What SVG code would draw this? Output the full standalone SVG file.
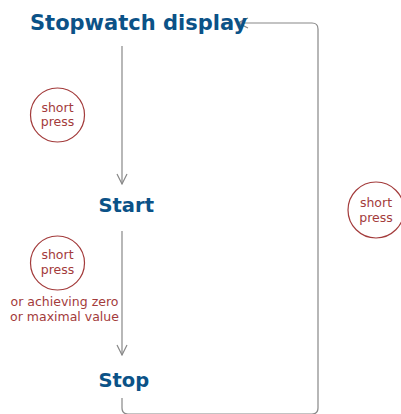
<svg xmlns="http://www.w3.org/2000/svg" width="401" height="414" viewBox="0 0 401 414">
<defs>
<style>
.title{font-family:"DejaVu Sans",sans-serif;font-weight:bold;fill:#0b5287;font-size:19.5px}
.big{font-size:21px}
.lbl{font-family:"DejaVu Sans",sans-serif;fill:#a33b3b;font-size:12.5px;text-anchor:middle}
.circ{fill:none;stroke:#a33b3b;stroke-width:1.2}
.edge{fill:none;stroke:#888;stroke-width:1.2}
</style>
<marker id="arr" viewBox="0 0 12 12" refX="11" refY="6" markerWidth="12" markerHeight="12" markerUnits="userSpaceOnUse" orient="auto">
<path d="M1,1 L11,6 L1,11" fill="none" stroke="#888" stroke-width="1.2"/>
</marker>
</defs>
<rect width="401" height="414" fill="#fff"/>
<g id="connectors">
<path class="edge" d="M122,46 V184" marker-end="url(#arr)"/>
<path class="edge" d="M122,231 V355" marker-end="url(#arr)"/>
<path class="edge" d="M122,398 V408 Q122,414 128,414 H312 Q318,414 318,408 V29 Q318,23 312,23 H238" marker-end="url(#arr)"/>
</g>
<g id="node-display"><text class="title big" x="30" y="30">Stopwatch display</text></g>
<g id="node-start"><text class="title" x="98.5" y="212">Start</text></g>
<g id="node-stop"><text class="title" x="98.5" y="387">Stop</text></g>
<g id="label-1">
<circle class="circ" cx="57.5" cy="115" r="27"/>
<text class="lbl" x="57.5" y="112">short</text>
<text class="lbl" x="57.5" y="126">press</text>
</g>
<g id="label-2">
<circle class="circ" cx="57.5" cy="263" r="27"/>
<text class="lbl" x="57.5" y="259">short</text>
<text class="lbl" x="57.5" y="274">press</text>
<text class="lbl" x="64.5" y="306">or achieving zero</text>
<text class="lbl" x="64.5" y="321">or maximal value</text>
</g>
<g id="label-3">
<circle class="circ" cx="376" cy="210" r="28"/>
<text class="lbl" x="376" y="207">short</text>
<text class="lbl" x="376" y="222">press</text>
</g>
</svg>
